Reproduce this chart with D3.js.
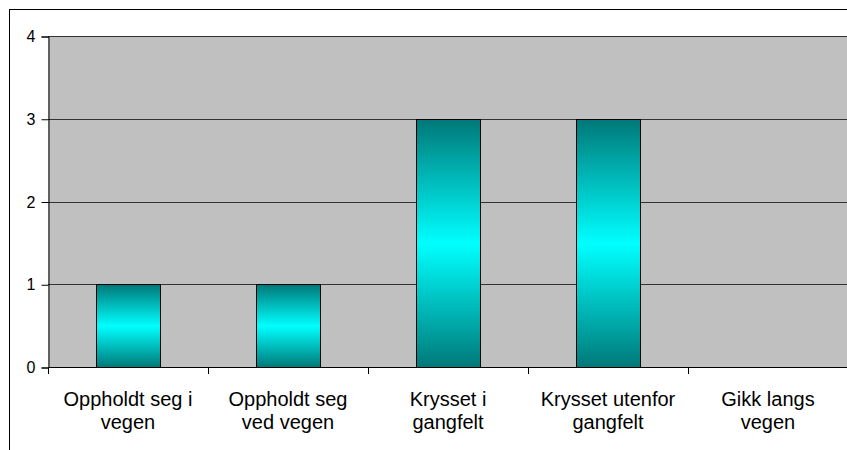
<!DOCTYPE html>
<html><head><meta charset="utf-8">
<script src="https://cdn.jsdelivr.net/npm/d3@7"></script>
<style>body{margin:0;background:#fff}svg{display:block}</style>
</head><body>
<script>
const categories = [["Oppholdt seg i","vegen"],["Oppholdt seg","ved vegen"],["Krysset i","gangfelt"],["Krysset utenfor","gangfelt"],["Gikk langs","vegen"]];
const values = [1,1,3,3,0];
const yTicks = [0,1,2,3,4];

const W = 847, H = 450;
const m = {left:48, top:36, right:848, bottom:367};
const svg = d3.select("body").append("svg").attr("width",W).attr("height",H);

const grad = svg.append("defs").append("linearGradient").attr("id","bg").attr("x1",0).attr("y1",0).attr("x2",0).attr("y2",1);
grad.append("stop").attr("offset","0%").attr("stop-color","#007878");
grad.append("stop").attr("offset","50%").attr("stop-color","#00ffff");
grad.append("stop").attr("offset","100%").attr("stop-color","#007878");

svg.append("rect").attr("x",9.5).attr("y",9.5).attr("width",W+20).attr("height",H+20).attr("fill","#fff").attr("stroke","#000");

const x = d3.scaleBand().domain(d3.range(categories.length)).range([m.left,m.right]).paddingInner(0.6).paddingOuter(0.3);
const xb = d3.scaleBand().domain(d3.range(categories.length)).range([m.left,m.right]);
const y = d3.scaleLinear().domain([0,4]).range([m.bottom,m.top]);

svg.append("rect").attr("x",m.left).attr("y",m.top).attr("width",m.right-m.left).attr("height",m.bottom-m.top).attr("fill","#c0c0c0");

svg.append("g").selectAll("line").data(yTicks.filter(d=>d>0)).join("line")
  .attr("x1",m.left).attr("x2",m.right).attr("y1",d=>Math.round(y(d))+0.5).attr("y2",d=>Math.round(y(d))+0.5)
  .attr("stroke","#333").attr("stroke-width",1);

svg.append("g").selectAll("rect").data(values).join("rect")
  .attr("x",(d,i)=>Math.round(x(i))+0.5).attr("width",Math.round(x.bandwidth()))
  .attr("y",d=>Math.round(y(d))+0.5).attr("height",d=>Math.round(y(0))-Math.round(y(d)))
  .attr("fill","url(#bg)").attr("stroke","#000").attr("stroke-width",1)
  .style("display",d=>d>0?null:"none");

// y axis
const yAxis = d3.axisLeft(y).tickValues(yTicks).tickSize(7).tickPadding(6).tickFormat(d3.format("d"));
const gy = svg.append("g").attr("transform",`translate(${m.left+0.5},0.5)`).call(yAxis);
gy.selectAll("text").attr("font-family","'Liberation Sans', Arial, sans-serif").attr("font-size",16).attr("fill","#000");
gy.select(".domain").attr("stroke","#000");
gy.selectAll(".tick line").attr("stroke","#000");

// x axis line and ticks at boundaries
svg.append("line").attr("x1",m.left).attr("x2",m.right).attr("y1",m.bottom+0.5).attr("y2",m.bottom+0.5).attr("stroke","#000");
const bounds = d3.range(categories.length+1).map(i=> i<categories.length ? xb(i) : m.right);
svg.append("g").selectAll("line").data(bounds).join("line")
  .attr("x1",d=>Math.round(d)+0.5).attr("x2",d=>Math.round(d)+0.5).attr("y1",m.bottom).attr("y2",m.bottom+7).attr("stroke","#000");

const lab = svg.append("g").selectAll("text").data(categories).join("text")
  .attr("x",(d,i)=>xb(i)+xb.bandwidth()/2).attr("y",406)
  .attr("text-anchor","middle").attr("font-family","'Liberation Sans', Arial, sans-serif").attr("font-size",20).attr("fill","#000");
lab.selectAll("tspan").data(d=>d).join("tspan").attr("x",function(){return this.parentNode.getAttribute("x");})
  .attr("dy",(d,i)=>i===0?0:23).text(d=>d);
</script>
</body></html>
